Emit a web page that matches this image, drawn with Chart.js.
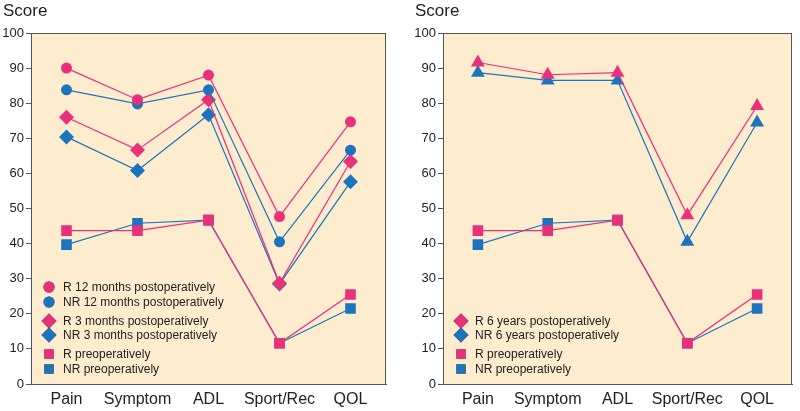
<!DOCTYPE html>
<html lang="en">
<head>
    <meta charset="UTF-8">
    <title>KOOS scores</title>
    <script src="https://cdn.jsdelivr.net/npm/chart.js@4.4.0/dist/chart.umd.min.js"></script>
    <style>
        html, body { margin: 0; padding: 0; background: #ffffff; }
        .wrap { display: flex; width: 800px; height: 411px; }
        .panel { position: relative; width: 400px; height: 411px; }
    </style>
</head>
<body>
    <div class="wrap">
        <div class="panel"><canvas id="chartLeft"></canvas></div>
        <div class="panel"><canvas id="chartRight"></canvas></div>
    </div>

    <script>
        // categories and series
        const categories = ['Pain', 'Symptom', 'ADL', 'Sport/Rec', 'QOL'];
        const yTicks = [0, 10, 20, 30, 40, 50, 60, 70, 80, 90, 100];

        const r12m = [90, 81, 88, 47.7, 74.7];
        const nr12m = [83.8, 79.8, 83.8, 40.5, 66.6];
        const r3m = [76, 66.7, 81, 28.7, 63.4];
        const nr3m = [70.4, 60.8, 76.7, 28.5, 57.6];
        const rPre = [43.7, 43.7, 46.7, 11.6, 25.5];
        const nrPre = [39.7, 45.8, 46.7, 11.6, 21.5];
        const r6y = [91.6, 88.1, 88.7, 48.1, 79.2];
        const nr6y = [88.7, 86.5, 86.5, 40.5, 74.5];

        const PINK = '#e8307b';
        const BLUE = '#1c75bc';
        const FONT = "'Liberation Sans', Arial, sans-serif";

        function ds(label, data, color, style, radius, legendStyle, legendRadius) {
            return {
                label: label,
                data: data,
                borderColor: color,
                backgroundColor: color,
                borderWidth: 1.2,
                pointStyle: style,
                pointRadius: radius,
                pointHoverRadius: radius,
                pointBorderWidth: 0,
                legendStyle: legendStyle || style,
                legendRadius: legendRadius || radius,
                tension: 0,
                fill: false
            };
        }

        // background, box and the "Score" caption
        const framePlugin = {
            id: 'frame',
            beforeDraw(chart) {
                const a = chart.chartArea, ctx = chart.ctx;
                ctx.save();
                ctx.fillStyle = '#fdecce';
                ctx.fillRect(a.left, a.top, a.right - a.left, a.bottom - a.top);
                ctx.restore();
            },
            afterDraw(chart, args, opts) {
                const a = chart.chartArea, ctx = chart.ctx;
                ctx.save();
                ctx.strokeStyle = '#555555';
                ctx.lineWidth = 1;
                ctx.strokeRect(a.left + 0.5, a.top + 0.5, a.right - a.left - 1, a.bottom - a.top);
                ctx.fillStyle = '#222222';
                ctx.font = '17px ' + FONT;
                ctx.textBaseline = 'middle';
                ctx.fillText('Score', opts.titleX, 11);
                ctx.restore();
            }
        };

        // legend drawn inside the plot, grouped in pairs
        const innerLegend = {
            id: 'innerLegend',
            afterDraw(chart, args, opts) {
                const ctx = chart.ctx;
                const a = chart.chartArea;
                ctx.save();
                ctx.font = '12px ' + FONT;
                ctx.textBaseline = 'middle';
                chart.data.datasets.forEach((d, i) => {
                    const y = opts.rows[i];
                    const x = a.left + 18;
                    Chart.helpers.drawPoint(ctx, {
                        pointStyle: d.legendStyle,
                        radius: d.legendRadius,
                        borderWidth: 0
                    }, x, y);
                    ctx.fillStyle = d.borderColor;
                    ctx.fill();
                    ctx.fillStyle = '#222222';
                    ctx.fillText(d.label, x + 14, y + 1);
                });
                ctx.restore();
            }
        };

        function makeOptions(leftPad, rightPad, titleX, rows) {
            return {
                responsive: false,
                animation: false,
                layout: { padding: { left: leftPad, right: rightPad, top: 33, bottom: 0 } },
                plugins: {
                    legend: { display: false },
                    tooltip: { enabled: false },
                    frame: { titleX: titleX },
                    innerLegend: { rows: rows }
                },
                scales: {
                    x: {
                        type: 'category',
                        offset: true,
                        grid: { display: false, drawTicks: false },
                        border: { display: true, color: '#555555' },
                        ticks: {
                            color: '#222222',
                            font: { family: FONT, size: 16 },
                            padding: 6,
                            maxRotation: 0,
                            minRotation: 0,
                            autoSkip: false
                        },
                        afterFit(scale) { scale.height = 27; }
                    },
                    y: {
                        min: 0,
                        max: 100,
                        afterBuildTicks(scale) {
                            scale.ticks = yTicks.map(v => ({ value: v }));
                        },
                        grid: {
                            drawOnChartArea: false,
                            drawTicks: true,
                            tickLength: 5,
                            color: '#555555'
                        },
                        border: { display: true, color: '#555555' },
                        ticks: {
                            color: '#222222',
                            font: { family: FONT, size: 13 },
                            padding: 2
                        },
                        afterFit(scale) { scale.width = 31; }
                    }
                }
            };
        }

        function setupCanvas(id) {
            const c = document.getElementById(id);
            c.width = 400;
            c.height = 411;
            c.style.width = '400px';
            c.style.height = '411px';
            return c.getContext('2d');
        }

        new Chart(setupCanvas('chartLeft'), {
            type: 'line',
            data: {
                labels: categories,
                datasets: [
                    ds('R 12 months postoperatively', r12m, PINK, 'circle', 5.5),
                    ds('NR 12 months postoperatively', nr12m, BLUE, 'circle', 5.5),
                    ds('R 3 months postoperatively', r3m, PINK, 'rectRot', 7.5),
                    ds('NR 3 months postoperatively', nr3m, BLUE, 'rectRot', 7.5),
                    ds('R preoperatively', rPre, PINK, 'rect', 7.5, 'rect', 6.5),
                    ds('NR preoperatively', nrPre, BLUE, 'rect', 7.5, 'rect', 6.5)
                ]
            },
            options: makeOptions(0, 14, 3, [287, 302, 321, 335, 354, 369]),
            plugins: [framePlugin, innerLegend]
        });

        new Chart(setupCanvas('chartRight'), {
            type: 'line',
            data: {
                labels: categories,
                datasets: [
                    ds('R 6 years postoperatively', r6y, PINK, 'triangle', 8, 'rectRot', 7.5),
                    ds('NR 6 years postoperatively', nr6y, BLUE, 'triangle', 8, 'rectRot', 7.5),
                    ds('R preoperatively', rPre, PINK, 'rect', 7.5, 'rect', 6.5),
                    ds('NR preoperatively', nrPre, BLUE, 'rect', 7.5, 'rect', 6.5)
                ]
            },
            options: makeOptions(12, 2, 15, [321, 335, 354, 369]),
            plugins: [framePlugin, innerLegend]
        });
    </script>
</body>
</html>
